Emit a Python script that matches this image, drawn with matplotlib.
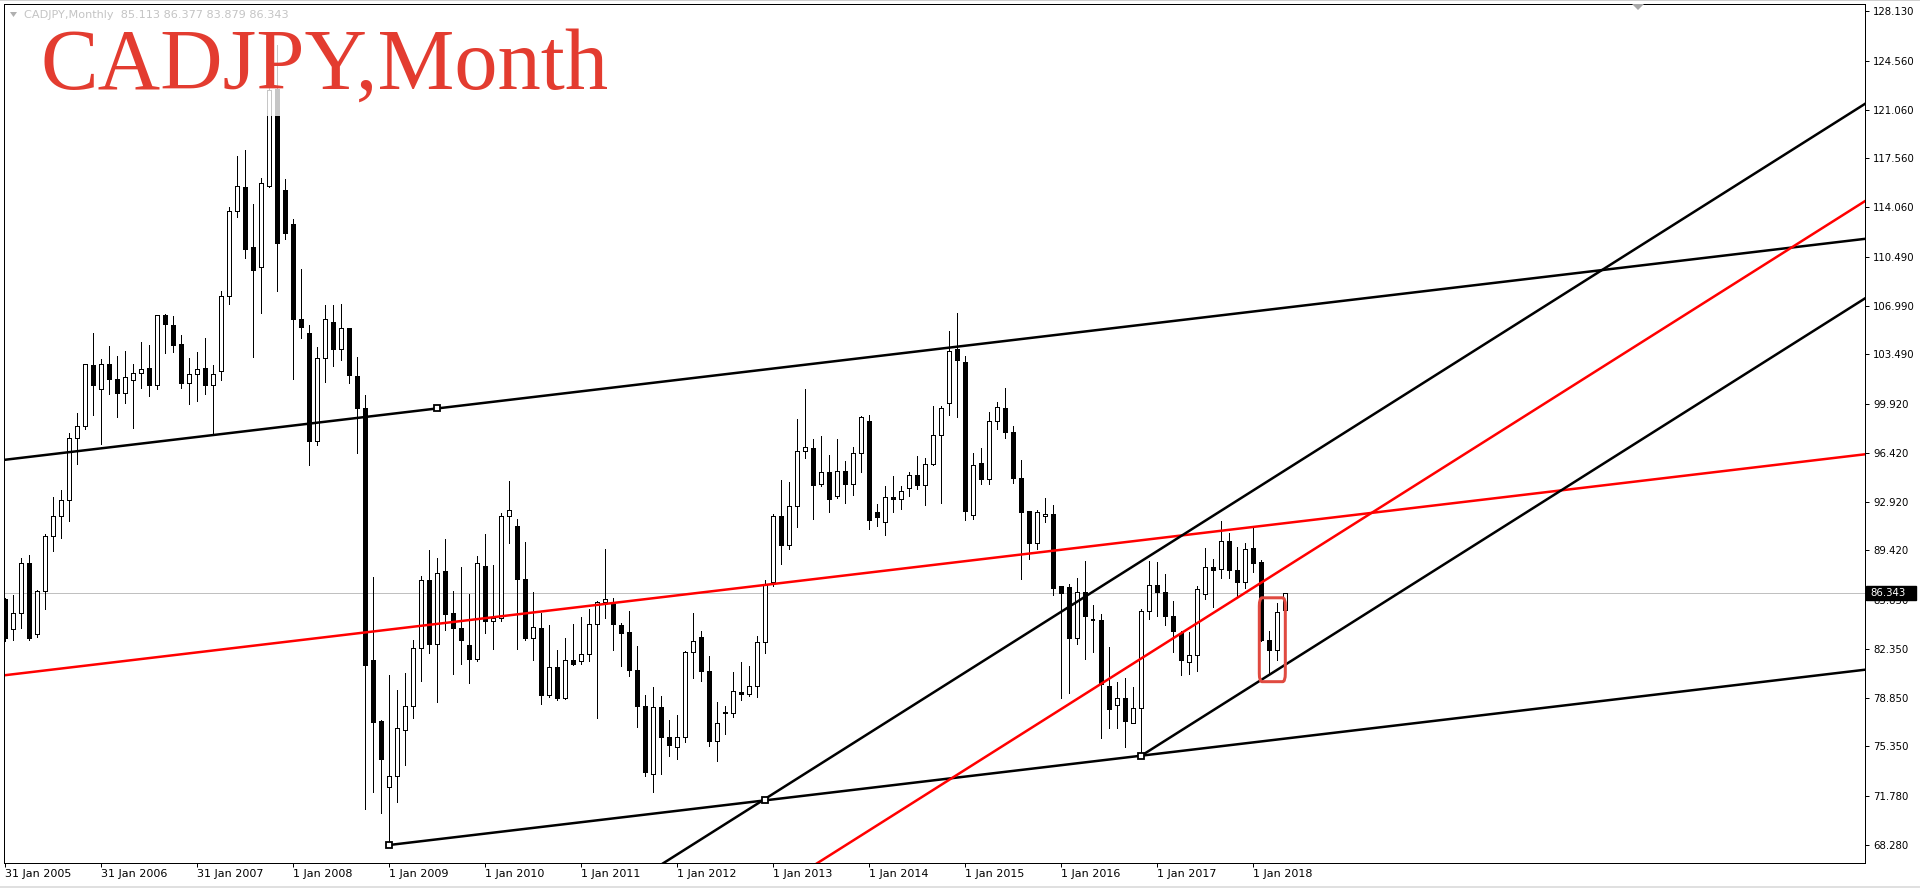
import matplotlib.pyplot as plt
from matplotlib.patches import Rectangle, FancyBboxPatch, Polygon
from matplotlib.lines import Line2D
from matplotlib import transforms
import numpy as np

W, H = 1920, 888

# monthly candles, index 0 = Jan 2005
opens = [85.90, 83.76, 84.91, 88.49, 83.40, 86.48, 90.49, 91.92, 93.07, 97.49,
         98.37, 102.69, 100.98, 102.77, 101.75, 100.69, 101.67, 102.16, 102.49, 101.31,
         106.28, 105.62, 104.20, 101.45, 102.05, 102.49, 101.26, 102.27, 107.66, 113.81,
         115.48, 111.17, 109.76, 115.55, 122.50, 115.28, 112.84, 106.06, 105.02, 97.28,
         103.23, 105.80, 103.86, 105.35, 101.95, 99.62, 81.56, 77.18, 72.43, 73.23,
         76.52, 78.25, 82.44, 87.30, 82.71, 87.94, 84.91, 83.85, 82.63, 81.64,
         88.28, 84.38, 84.56, 91.92, 91.18, 87.35, 83.10, 83.85, 79.07, 81.03,
         78.86, 81.56, 81.51, 81.99, 84.11, 85.71, 85.55, 84.09, 83.54, 80.84,
         78.28, 73.40, 78.21, 76.06, 75.29, 76.06, 82.11, 83.23, 80.79, 75.77,
         77.85, 77.75, 79.24, 79.12, 79.72, 82.87, 87.13, 91.92, 89.81, 92.63,
         96.58, 96.75, 94.19, 95.03, 93.35, 95.15, 94.19, 96.39, 98.74, 92.20,
         91.49, 93.28, 93.11, 93.88, 94.86, 94.14, 95.63, 97.71, 100.00, 103.88,
         102.92, 91.99, 95.67, 94.55, 98.74, 99.62, 97.95, 94.60, 92.23, 89.96,
         91.92, 92.06, 86.89, 86.77, 83.14, 86.46, 84.45, 84.45, 79.72, 78.35,
         78.83, 77.04, 78.09, 85.10, 86.97, 86.46, 84.74, 83.50, 81.39, 81.92,
         86.32, 88.26, 88.07, 90.10, 88.02, 87.16, 89.62, 88.59, 82.99, 82.28,
         85.113]
highs = [86.00, 86.20, 88.90, 89.09, 86.56, 90.63, 93.24, 93.79, 97.88, 99.25,
         102.82, 105.02, 103.15, 104.06, 103.37, 103.73, 102.77, 104.41, 104.14, 106.34,
         106.39, 106.23, 104.85, 103.26, 103.65, 104.69, 102.69, 108.04, 114.08, 117.74,
         118.15, 114.25, 116.12, 123.00, 125.69, 116.05, 113.20, 109.60, 105.62, 104.00,
         107.00, 107.05, 107.13, 105.35, 103.33, 100.57, 87.48, 77.26, 80.45, 79.39,
         80.64, 82.97, 87.56, 89.42, 88.89, 90.22, 86.50, 88.23, 86.29, 89.00,
         90.59, 88.36, 92.13, 94.39, 91.65, 90.01, 86.42, 84.91, 84.09, 82.26,
         83.16, 84.17, 84.64, 85.18, 85.81, 89.53, 86.02, 84.21, 85.05, 82.59,
         79.07, 79.60, 78.99, 77.28, 77.61, 82.23, 84.93, 83.64, 81.82, 78.57,
         78.28, 80.67, 81.39, 81.10, 83.30, 87.32, 92.04, 94.48, 94.31, 98.86,
         101.01, 97.42, 97.66, 96.27, 97.42, 95.86, 96.82, 99.10, 99.14, 92.75,
         94.02, 94.79, 94.02, 95.08, 96.18, 96.03, 99.76, 99.81, 105.20, 106.44,
         103.40, 96.39, 96.75, 99.38, 100.05, 101.06, 98.38, 95.94, 92.23, 92.35,
         93.16, 92.71, 86.89, 87.01, 87.42, 88.69, 85.51, 84.86, 82.47, 79.96,
         80.24, 79.60, 85.22, 88.69, 88.62, 87.73, 85.82, 83.66, 83.54, 86.85,
         89.62, 88.78, 91.53, 90.70, 89.69, 89.93, 91.18, 88.70, 83.64, 85.67,
         86.377]
lows = [82.90, 83.00, 83.82, 82.99, 83.18, 85.24, 89.39, 90.33, 91.56, 95.63,
        98.15, 99.14, 97.08, 100.63, 98.98, 100.02, 98.24, 101.07, 100.52, 100.98,
        103.59, 103.67, 101.07, 99.94, 100.16, 100.63, 97.69, 101.67, 107.11, 113.34,
        110.40, 103.32, 106.48, 115.48, 108.04, 111.80, 101.72, 104.63, 95.57, 97.00,
        101.48, 102.62, 103.07, 101.42, 96.43, 70.89, 72.09, 70.55, 68.28, 71.37,
        74.03, 77.40, 80.05, 82.04, 78.51, 83.69, 80.58, 81.25, 79.87, 81.51,
        83.50, 82.31, 84.38, 89.95, 82.36, 82.97, 81.56, 78.38, 78.91, 78.67,
        78.73, 81.17, 81.30, 81.51, 77.40, 84.56, 82.26, 81.15, 80.39, 76.73,
        73.26, 72.11, 73.38, 74.69, 74.45, 75.70, 80.24, 80.07, 75.41, 74.33,
        76.25, 77.44, 78.71, 78.99, 78.88, 82.06, 86.89, 88.45, 89.52, 91.08,
        96.03, 91.68, 94.07, 92.16, 93.16, 92.80, 93.40, 95.03, 90.96, 91.15,
        90.53, 92.16, 92.40, 93.30, 93.83, 92.68, 95.58, 92.83, 99.14, 98.97,
        91.61, 91.68, 94.19, 94.19, 98.14, 97.47, 94.26, 87.37, 88.81, 89.52,
        91.49, 86.25, 78.81, 79.19, 82.71, 81.63, 82.11, 75.94, 76.65, 76.65,
        75.29, 77.04, 74.69, 84.50, 84.74, 84.07, 82.11, 80.48, 80.55, 80.79,
        85.91, 85.39, 87.47, 87.47, 86.15, 86.75, 87.87, 82.92, 80.60, 81.56,
        83.879]
closes = [83.13, 84.91, 88.49, 83.13, 86.48, 90.49, 91.92, 93.07, 97.49, 98.37,
          102.77, 101.26, 102.82, 101.75, 100.74, 101.89, 102.16, 102.46, 101.26, 106.28,
          105.65, 104.14, 101.45, 102.05, 102.46, 101.26, 102.05, 107.66, 113.81, 115.54,
          111.06, 109.55, 115.79, 122.46, 111.46, 112.17, 106.06, 105.43, 97.28, 103.20,
          106.01, 103.86, 105.35, 102.00, 99.62, 81.17, 77.13, 74.48, 73.23, 76.68,
          78.25, 82.44, 87.30, 82.71, 87.80, 84.88, 83.85, 82.97, 81.64, 88.49,
          84.38, 84.56, 91.92, 92.34, 87.35, 83.10, 83.95, 79.07, 81.03, 78.86,
          81.56, 81.30, 81.99, 84.11, 85.71, 85.90, 84.11, 83.50, 80.84, 78.28,
          73.54, 78.21, 76.06, 75.46, 76.06, 82.11, 82.95, 80.79, 75.77, 77.04,
          77.75, 79.36, 79.12, 79.72, 82.87, 87.01, 91.92, 89.81, 92.63, 96.58,
          96.82, 94.12, 95.03, 93.11, 95.15, 94.19, 96.39, 98.98, 91.63, 91.85,
          93.28, 93.11, 93.71, 94.86, 94.14, 95.63, 97.71, 99.62, 103.76, 103.09,
          92.23, 95.58, 94.55, 98.74, 99.69, 97.95, 94.62, 92.20, 89.96, 92.16,
          92.06, 86.73, 86.37, 83.14, 86.46, 84.74, 84.45, 79.84, 78.04, 78.83,
          77.20, 78.09, 85.10, 86.97, 86.46, 84.69, 83.66, 81.58, 81.92, 86.65,
          88.23, 88.02, 90.10, 88.02, 87.16, 89.50, 88.50, 82.99, 82.28, 85.00,
          86.343]

price_ticks = [128.130, 124.560, 121.060, 117.560, 114.060, 110.490, 106.990, 103.490,
               99.920, 96.420, 92.920, 89.420, 85.850, 82.350, 78.850, 75.350, 71.780, 68.280]
date_ticks = [0, 12, 24, 36, 48, 60, 72, 84, 96, 108, 120, 132, 144, 156]
date_labels = ["31 Jan 2005", "31 Jan 2006", "31 Jan 2007", "1 Jan 2008", "1 Jan 2009",
               "1 Jan 2010", "1 Jan 2011", "1 Jan 2012", "1 Jan 2013", "1 Jan 2014",
               "1 Jan 2015", "1 Jan 2016", "1 Jan 2017", "1 Jan 2018"]

last_price = 86.343
header = "CADJPY,Monthly  85.113 86.377 83.879 86.343"
title = "CADJPY,Month"

# trend channels: (bar index, price) anchors
flat_low_a, flat_low_b = (48, 68.28), (142, 74.69)
flat_top_pt = (54, 99.61)
steep_low_a, steep_low_b = (142, 74.69), (160, 81.22)
steep_top_pt = (95, 71.60)
box_x = (156.75, 160.0)
box_y = (80.0, 86.02)

XL = (-0.1625, 232.46)
YL = (66.988, 128.632)

fig = plt.figure(figsize=(W / 100, H / 100), dpi=100)
ax = fig.add_axes([4 / W, (H - 863) / H, 1861 / W, 859 / H])
ax.set_xlim(*XL)
ax.set_ylim(*YL)

PX = 0.72  # one pixel in points

# candles
bw = 0.5
for i, (o, h, l, c) in enumerate(zip(opens, highs, lows, closes)):
    ax.vlines(i, l, h, color="black", lw=PX, zorder=2, antialiased=False)
    lo, hi = min(o, c), max(o, c)
    if hi - lo < 0.08:
        ax.hlines((o + c) / 2, i - bw / 2, i + bw / 2, color="black", lw=PX * 1.5,
                  zorder=3, antialiased=False)
        continue
    fc = "white" if c >= o else "black"
    ax.add_patch(Rectangle((i - bw / 2, lo), bw, hi - lo, fc=fc, ec="black",
                           lw=PX, zorder=3, antialiased=False))


def line_through(p, q):
    s = (q[1] - p[1]) / (q[0] - p[0])
    return s, p[1] - s * p[0]


LW = 2.5 * PX

# shallow channel
s1, b_low = line_through(flat_low_a, flat_low_b)
b_top = flat_top_pt[1] - s1 * flat_top_pt[0]
b_mid = (b_low + b_top) / 2
xs = np.array([XL[0], XL[1]])
ax.plot(xs, s1 * xs + b_top, color="black", lw=LW, zorder=4)
ax.plot(xs, s1 * xs + b_mid, color="#ff0000", lw=LW, zorder=4)
xs2 = np.array([flat_low_a[0], XL[1]])
ax.plot(xs2, s1 * xs2 + b_low, color="black", lw=LW, zorder=4)

# steep channel
s2, c_low = line_through(steep_low_a, steep_low_b)
c_top = steep_top_pt[1] - s2 * steep_top_pt[0]
c_mid = (c_low + c_top) / 2
ax.plot(xs, s2 * xs + c_top, color="black", lw=LW, zorder=4)
ax.plot(xs, s2 * xs + c_mid, color="#ff0000", lw=LW, zorder=4)
xs3 = np.array([steep_low_a[0], XL[1]])
ax.plot(xs3, s2 * xs3 + c_low, color="black", lw=LW, zorder=4)

# anchor squares
for px_, py_ in [flat_low_a, flat_low_b, flat_top_pt, (steep_top_pt[0], s1 * steep_top_pt[0] + b_low)]:
    ax.plot(px_, py_, marker="s", ms=4, mfc="white", mec="black", mew=1.3, zorder=5)

# current price line
ax.axhline(last_price, color="#c0c0c0", lw=PX, zorder=1)

# red box
ax.add_patch(FancyBboxPatch((box_x[0], box_y[0]), box_x[1] - box_x[0], box_y[1] - box_y[0],
                            boxstyle="round,pad=0,rounding_size=0.35", fc="none",
                            ec="#e04a40", lw=3 * PX, zorder=6, mutation_aspect=1.7))

# title area washes candles underneath
ax.add_patch(Rectangle((4.3, 120.63), 71.5, YL[1] - 120.63, fc="white", ec="none",
                       alpha=0.78, zorder=7))

# axes styling
for sp in ax.spines.values():
    sp.set_linewidth(PX)
    sp.set_color("black")
    sp.set_zorder(30)
ax.yaxis.tick_right()
ax.set_yticks(price_ticks)
ax.set_yticklabels([f"{v:.3f}" for v in price_ticks])
ax.set_xticks(date_ticks)
ax.set_xticklabels(date_labels, ha="left")
ax.tick_params(axis="y", direction="out", length=4 * PX, width=PX, pad=4 * PX,
               labelsize=7.3, colors="black")
ax.tick_params(axis="x", direction="out", length=4 * PX, width=PX, pad=2 * PX,
               labelsize=8, colors="black")
for t in ax.get_yticklabels() + ax.get_xticklabels():
    t.set_family("DejaVu Sans")

# last price tag on the axis
bt = transforms.blended_transform_factory(fig.transFigure, ax.transData)
ax.add_patch(Rectangle((1866 / W, last_price - 0.5), 50 / W, 1.0, transform=bt,
                       fc="black", ec="black", clip_on=False, zorder=10))
ax.text(1870 / W, last_price, f"{last_price:.3f}", transform=bt, color="white",
        fontsize=7.3, va="center", ha="left", zorder=11, clip_on=False)

# title and header
fig.text(40.5 / W, 1 - 89 / H, title, family="Liberation Serif", fontsize=62.3,
         color="#e33c30", va="baseline", ha="left", zorder=20)
fig.text(24 / W, 1 - 15 / H, header, fontsize=8.1, color="#c4c4c4", va="center", ha="left")
fig.patches.append(Polygon([(10 / W, 1 - 12 / H), (17 / W, 1 - 12 / H), (13.5 / W, 1 - 17 / H)],
                           closed=True, fc="#b0b0b0", ec="none", transform=fig.transFigure))
fig.patches.append(Polygon([(1632 / W, 1 - 4 / H), (1644 / W, 1 - 4 / H), (1638 / W, 1 - 10 / H)],
                           closed=True, fc="#a8a8a8", ec="none", transform=fig.transFigure))

# window frame lines
fig.lines.append(Line2D([0, 1], [1 - 0.5 / H, 1 - 0.5 / H], transform=fig.transFigure,
                        color="#d0d0d0", lw=PX))
fig.lines.append(Line2D([0, 1], [1.5 / H, 1.5 / H], transform=fig.transFigure,
                        color="#e0e0e0", lw=2 * PX))

fig.savefig("out.png", dpi=100, facecolor="white")
